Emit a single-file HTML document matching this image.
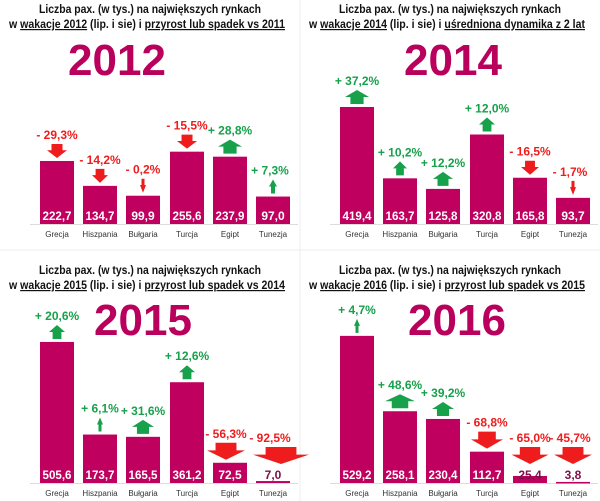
<!DOCTYPE html>
<html><head><meta charset="utf-8">
<style>
html,body{margin:0;padding:0;background:#fff;}
svg{display:block;font-family:"Liberation Sans",sans-serif;}
</style></head>
<body>
<svg id="chart" width="600" height="501" viewBox="0 0 600 501" xmlns="http://www.w3.org/2000/svg">
<line x1="300" y1="0" x2="300" y2="501" stroke="#eee"/>
<line x1="0" y1="250" x2="600" y2="250" stroke="#eee"/>
</svg>
<script>
const categories = ["Grecja","Hiszpania","Bułgaria","Turcja","Egipt","Tunezja"];
const years = ["2012","2014","2015","2016"];
const values2012 = [222.7,134.7,99.9,255.6,237.9,97.0];
const values2014 = [419.4,163.7,125.8,320.8,165.8,93.7];
const values2015 = [505.6,173.7,165.5,361.2,72.5,7.0];
const values2016 = [529.2,258.1,230.4,112.7,25.4,3.8];
const changes2012 = [-29.3,-14.2,-0.2,-15.5,28.8,7.3];
const changes2014 = [37.2,10.2,12.2,12.0,-16.5,-1.7];
const changes2015 = [20.6,6.1,31.6,12.6,-56.3,-92.5];
const changes2016 = [4.7,48.6,39.2,-68.8,-65.0,-45.7];
const titleLine1 = "Liczba pax. (w tys.) na największych rynkach";
const titleYears = ["2012","2014","2015","2016"];
const titleTails = ["przyrost lub spadek vs 2011","uśredniona dynamika z 2 lat","przyrost lub spadek vs 2014","przyrost lub spadek vs 2015"];

const svg = document.getElementById('chart');
const NS = "http://www.w3.org/2000/svg";
function mk(tag, attrs, parent){
  const e = document.createElementNS(NS, tag);
  for (const k in attrs) e.setAttribute(k, attrs[k]);
  (parent||svg).appendChild(e);
  return e;
}
function fmt(v, dec){ return v.toFixed(dec).replace('.', ','); }

const panels = [
  {ox:0, oy:0, base:224, scale:0.283, yearX:117, yearY:75, vals:values2012, chg:changes2012, aw:[20,16,6,20,24,8], dx:[0,0,0,0,0,0]},
  {ox:300, oy:0, base:224, scale:0.279, yearX:153, yearY:75, vals:values2014, chg:changes2014, aw:[24,14,20,16,18,6], dx:[0,0,0,0,0,0]},
  {ox:0, oy:250, base:233, scale:0.279, yearX:143, yearY:85, vals:values2015, chg:changes2015, aw:[16,6,22,16,38,56], dx:[0,0,0,0,-4,0]},
  {ox:300, oy:250, base:233, scale:0.278, yearX:157, yearY:85, vals:values2016, chg:changes2016, aw:[6,30,22,32,37,38], dx:[0,0,0,0,0,0]}
];
const barX = [40,83,126,170,213,256];
const BW = 34;

panels.forEach((p, pi) => {
  const g = mk('g', {transform:`translate(${p.ox},${p.oy})`});
  
  
  const ty = pi < 2 ? 13 : 24;
  const t1 = mk('text', {x:150, y:ty, 'text-anchor':'middle', 'font-size':12, 'font-weight':'bold', fill:'#111', textLength:222, lengthAdjust:'spacingAndGlyphs'}, g);
  t1.textContent = titleLine1;
  
  
  const t2 = mk('text', {x:147, y:ty+15, 'text-anchor':'middle', 'font-size':12, 'font-weight':'bold', fill:'#111', textLength:276, lengthAdjust:'spacingAndGlyphs'}, g);
  t2.innerHTML = 'w <tspan text-decoration="underline">wakacje ' + titleYears[pi] + '</tspan> (lip. i sie) i <tspan text-decoration="underline">' + titleTails[pi] + '</tspan>';
  
  
  const yr = mk('text', {x:p.yearX, y:p.yearY, 'text-anchor':'middle', 'font-size':44, 'font-weight':'bold', fill:'#b8005c'}, g);
  yr.textContent = years[pi];
  
  
  const ax = mk('line', {x1:30, y1:p.base+0.5, x2:298, y2:p.base+0.5, stroke:'#ddd'}, g);
  
  

  p.vals.forEach((v, i) => {
    const h = v * p.scale;
    const x = barX[i];
    const top = p.base - h;
    const bar = mk('rect', {x:x, y:top, width:BW, height:Math.max(h,1.5), fill:'#c0005f'}, g);
    
    
    const small = h < 16;
    const label = fmt(v,1);
    const vt = mk('text', {x:x+BW/2, y:p.base-4, 'text-anchor':'middle', 'font-size':12, 'font-weight':'bold', fill: small ? '#7a1048' : '#fff'}, g);
    if (label.length >= 5) { vt.setAttribute('textLength', 29); vt.setAttribute('lengthAdjust', 'spacingAndGlyphs'); }
    vt.textContent = label;
    
    
    const ct = mk('text', {x:x+BW/2, y:p.base+13, 'text-anchor':'middle', 'font-size':8, fill:'#333'}, g);
    ct.textContent = categories[i];
    
    

    const c = p.chg[i];
    const up = c >= 0;
    const col = up ? '#17a14a' : '#ee1c1c';
    const w = p.aw[i];
    const ah = w > 30 ? 17 : 14;
    const cx = x + BW/2 + (w > 40 ? 8 : 0) + p.dx[i];
    const effTop = Math.min(top, p.base - 16);
    const y1 = effTop - 3 - ah, y2 = effTop - 3;
    const sw = w < 10 ? w*0.5 : w*0.55;
    let d;
    if (up) {
      const hy = y1 + ah*0.5;
      d = `M${cx-w/2},${hy} L${cx},${y1} L${cx+w/2},${hy} L${cx+sw/2},${hy} L${cx+sw/2},${y2} L${cx-sw/2},${y2} L${cx-sw/2},${hy} Z`;
    } else {
      const hy = y1 + ah*0.45;
      d = `M${cx-sw/2},${y1} L${cx+sw/2},${y1} L${cx+sw/2},${hy} L${cx+w/2},${hy} L${cx},${y2} L${cx-w/2},${hy} L${cx-sw/2},${hy} Z`;
    }
    const ar = mk('path', {d:d, fill:col}, g);
    
    
    const px = Math.min(cx, 270);
    const pt = mk('text', {x:px, y:y1-5, 'text-anchor':'middle', 'font-size':12, 'font-weight':'bold', fill:col}, g);
    pt.textContent = (up ? '+ ' : '- ') + fmt(Math.abs(c),1) + '%';
    
    
  });
});
</script>
</body></html>
